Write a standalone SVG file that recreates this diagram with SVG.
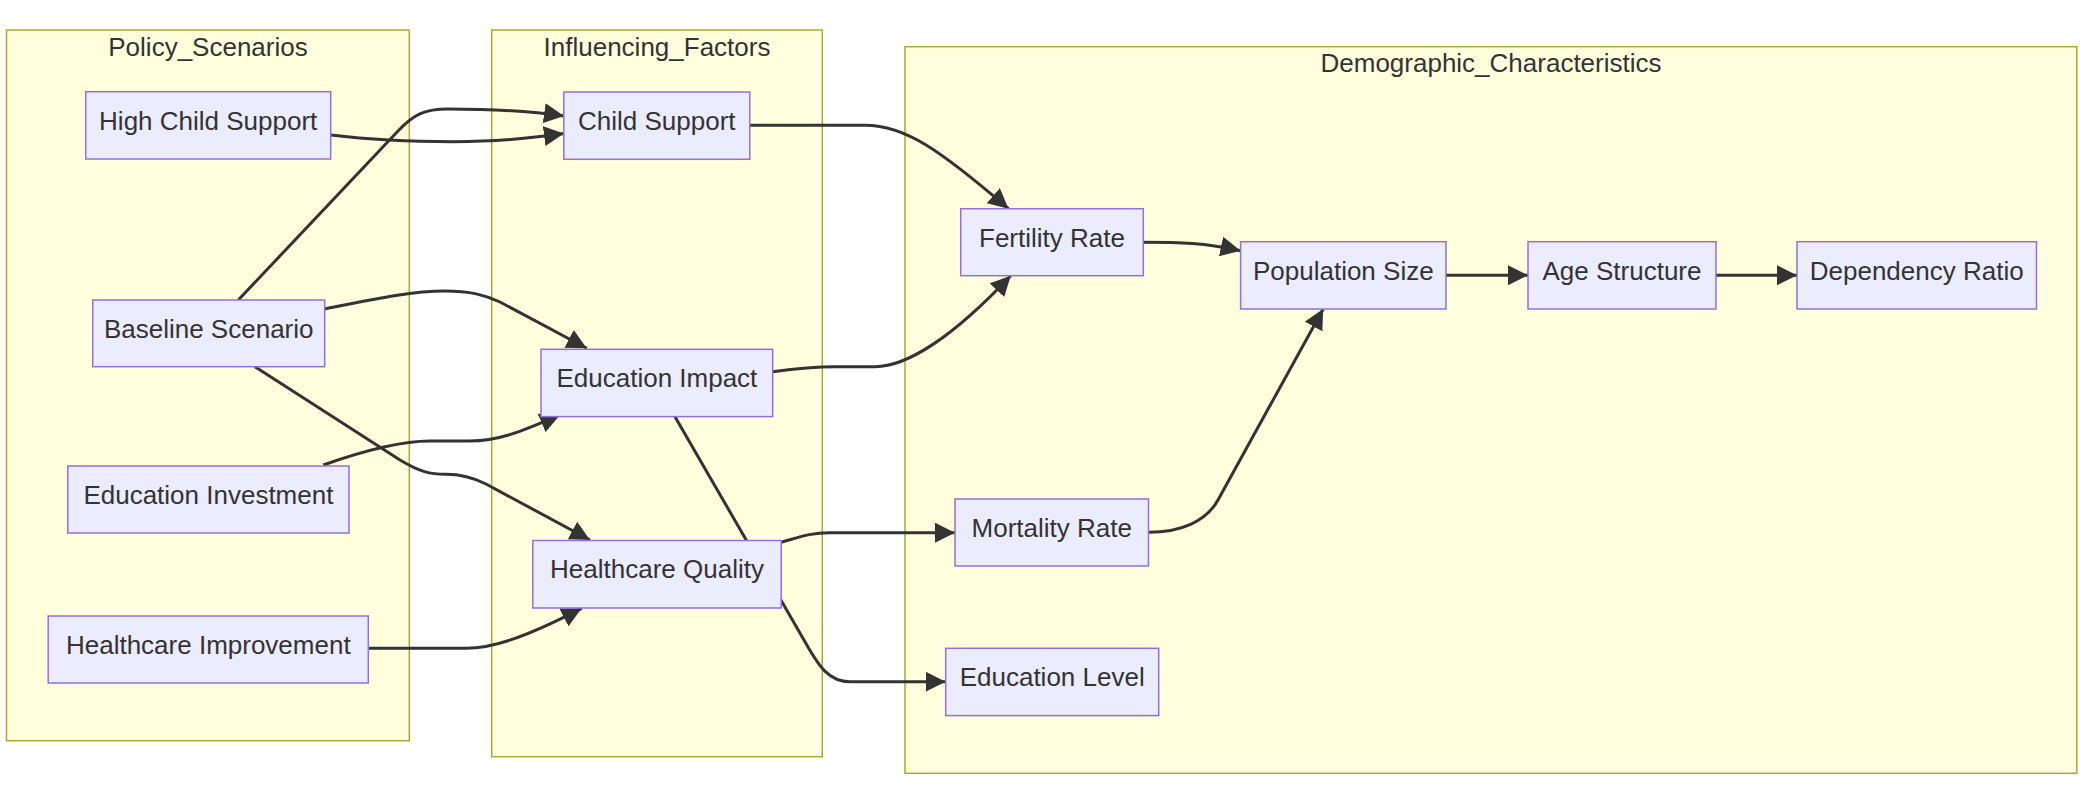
<svg xmlns="http://www.w3.org/2000/svg" width="2086" height="794" viewBox="0 0 2086 794">
<style>
.cluster{fill:#ffffde;stroke:#aaaa33;stroke-width:1.5}
.node rect{fill:#ECECFF;stroke:#9370DB;stroke-width:1.5}
text{font-family:"Liberation Sans",Arial,sans-serif;font-size:26px;fill:#333333;text-anchor:middle}
.edge{fill:none;stroke:#333333;stroke-width:3;marker-end:url(#arr)}
</style>
<defs>
<marker id="arr" viewBox="0 0 10 10" refX="10" refY="5" markerUnits="userSpaceOnUse" markerWidth="20" markerHeight="20" orient="auto">
<path d="M0,0 L10,5 L0,10 z" fill="#333333"/>
</marker>
</defs>
<rect width="2086" height="794" fill="#ffffff"/>
<g id="clusters">
<g id="Policy_Scenarios"><rect class="cluster" x="6.5" y="30" width="402.8" height="710.7"/><text x="208" y="56">Policy_Scenarios</text></g>
<g id="Influencing_Factors"><rect class="cluster" x="491.7" y="30" width="330.6" height="726.7"/><text x="657" y="56">Influencing_Factors</text></g>
<g id="Demographic_Characteristics"><rect class="cluster" x="905" y="46.7" width="1171.8" height="726.6"/><text x="1491" y="72">Demographic_Characteristics</text></g>
</g>
<g id="edges">
<path class="edge" d="M331,135 C380,141 420,141.7 453,141.7 C500,141.7 530,138 564,133.5"/>
<path class="edge" d="M238.3,300 L398,131 C414,114 425,109 448,109 C495,109 530,111 564,116"/>
<path class="edge" d="M324.7,309 C370,300 410,291 445,291 C470,291 485,295 500,302 L586.7,348.3"/>
<path class="edge" d="M255,366.7 L400,460 C420,472 430,474.3 446,474.3 C460,474.3 472,477 486,484 L590,540"/>
<path class="edge" d="M323.3,465 C360,452 400,441 430,441 L470,441 C500,441 525,430 560,415"/>
<path class="edge" d="M368.3,648.3 L466,648.3 C490,648.3 520,640 581.7,608.3"/>
<path class="edge" d="M749.7,125.3 L865,125.3 C905,125.3 940,150 1008.5,208.7"/>
<path class="edge" d="M772.7,371.7 C800,368 815,366.7 835,366.7 L875,366.7 C905,366.7 950,340 1010.7,275.7"/>
<path class="edge" d="M1143.3,242.3 C1180,242.3 1205,243 1240.6,250.7"/>
<path class="edge" d="M1148.7,532.3 C1180,532.3 1206,521.8 1218,500 L1323.2,309"/>
<path class="edge" d="M1446,275.3 L1528,275.3"/>
<path class="edge" d="M1716,275.3 L1797,275.3"/>
<path class="edge" d="M781.2,542.3 C800,537 810,532.7 830,532.7 L955,532.7"/>
<path class="edge" d="M675,416.7 L808,647 C818,664 828,681.7 850,681.7 L945.7,681.7"/>
</g>
<g id="n_HighChildSupport" class="node"><rect x="85.7" y="91.7" width="245" height="67.3"/><text x="208.2" y="129.5">High Child Support</text></g>
<g id="n_BaselineScenario" class="node"><rect x="92.7" y="300" width="232" height="66.7"/><text x="208.7" y="337.8">Baseline Scenario</text></g>
<g id="n_EducationInvestment" class="node"><rect x="67.8" y="466" width="281.2" height="67"/><text x="208.4" y="503.8">Education Investment</text></g>
<g id="n_HealthcareImprovement" class="node"><rect x="48.2" y="616" width="320.1" height="67"/><text x="208.3" y="653.8">Healthcare Improvement</text></g>
<g id="n_ChildSupport" class="node"><rect x="563.8" y="92" width="186" height="67.3"/><text x="656.8" y="129.8">Child Support</text></g>
<g id="n_EducationImpact" class="node"><rect x="541" y="349.3" width="231.7" height="67.3"/><text x="656.9" y="387.1">Education Impact</text></g>
<g id="n_HealthcareQuality" class="node"><rect x="532.8" y="540.5" width="248.4" height="67.5"/><text x="657" y="578.3">Healthcare Quality</text></g>
<g id="n_FertilityRate" class="node"><rect x="960.7" y="208.7" width="182.6" height="67"/><text x="1052" y="246.5">Fertility Rate</text></g>
<g id="n_PopulationSize" class="node"><rect x="1240.6" y="241.7" width="205.4" height="67.3"/><text x="1343.3" y="279.5">Population Size</text></g>
<g id="n_AgeStructure" class="node"><rect x="1528" y="241.7" width="188" height="67.3"/><text x="1622" y="279.5">Age Structure</text></g>
<g id="n_DependencyRatio" class="node"><rect x="1797" y="241.7" width="239.5" height="67.3"/><text x="1916.7" y="279.5">Dependency Ratio</text></g>
<g id="n_MortalityRate" class="node"><rect x="955" y="499" width="193.5" height="67"/><text x="1051.8" y="536.8">Mortality Rate</text></g>
<g id="n_EducationLevel" class="node"><rect x="945.7" y="648.3" width="213" height="67.3"/><text x="1052.2" y="686.1">Education Level</text></g>
</svg>
